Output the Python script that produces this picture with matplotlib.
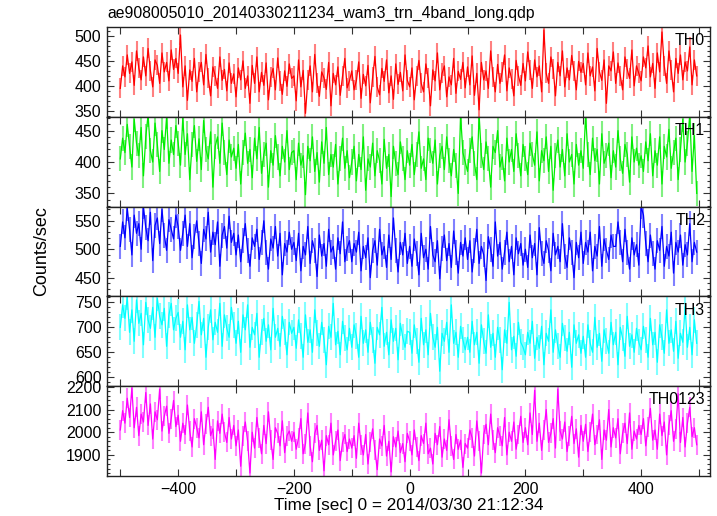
import numpy as np
import matplotlib
matplotlib.use("Agg")
import matplotlib.pyplot as plt
from matplotlib.ticker import MultipleLocator

plt.rcParams["font.family"] = ["Liberation Sans", "DejaVu Sans"]
plt.rcParams["font.size"] = 11.5

title = "ae908005010_20140330211234_wam3_trn_4band_long.qdp"
xlabel = "Time [sec] 0 = 2014/03/30 21:12:34"
ylabel = "Counts/sec"

# time bins (sec), 4 s step
t_start, t_step, n_bins = -500, 4, 250

bands = ["TH0", "TH1", "TH2", "TH3", "TH0123"]

th0 = [
    395, 440, 418, 462, 425, 448, 401, 470, 436, 412, 458, 420, 475, 430, 398, 452, 441, 405, 466, 428, 447, 410, 472, 433, 455,
    425, 502, 398, 440, 371, 432, 409, 455, 388, 428, 447, 402, 463, 415, 380, 438, 420, 395, 458, 411, 433, 390, 446, 405, 424,
    378, 436, 412, 450, 395, 420, 365, 441, 405, 458, 388, 427, 401, 446, 372, 418, 435, 392, 456, 410, 383, 430, 399, 444, 415,
    420, 370, 452, 398, 431, 345, 412, 440, 388, 463, 405, 379, 428, 416, 393, 447, 360, 425, 402, 438, 381, 419, 455, 396, 410,
    430, 392, 411, 448, 375, 423, 400, 441, 366, 417, 459, 398, 382, 435, 409, 452, 386, 420, 373, 444, 403, 427, 390, 462, 411,
    398, 436, 372, 420, 451, 405, 388, 444, 415, 360, 432, 410, 466, 392, 425, 440, 378, 418, 402, 455, 385, 429, 413, 447, 396,
    438, 402, 460, 381, 425, 352, 447, 412, 430, 395, 470, 418, 388, 443, 405, 428, 462, 390, 436, 414, 380, 451, 420, 401, 445,
    410, 468, 431, 395, 452, 418, 440, 388, 512, 425, 405, 458, 434, 380, 447, 420, 470, 398, 436, 412, 461, 430, 392, 449, 427,
    445, 402, 466, 420, 438, 390, 475, 428, 411, 452, 365, 440, 430, 468, 405, 446, 420, 392, 458, 433, 415, 472, 400, 440, 425,
    410, 458, 436, 480, 418, 445, 395, 466, 428, 508, 440, 405, 470, 432, 388, 455, 425, 462, 412, 448, 430, 478, 402, 452, 420,
]
th1 = [
    405, 438, 415, 460, 425, 392, 468, 430, 410, 455, 378, 440, 475, 418, 400, 462, 428, 385, 450, 420, 472, 398, 435, 412, 458,
    430, 395, 470, 412, 445, 372, 428, 458, 401, 437, 388, 466, 420, 405, 448, 360, 425, 440, 398, 462, 415, 380, 435, 408, 422,
    390, 428, 365, 415, 446, 398, 420, 375, 438, 405, 455, 382, 412, 430, 360, 418, 395, 442, 408, 378, 425, 400, 450, 388, 415,
    418, 372, 430, 395, 410, 348, 425, 402, 440, 385, 415, 368, 432, 398, 455, 380, 412, 392, 428, 365, 405, 438, 390, 418, 375,
    400, 425, 370, 412, 388, 440, 355, 405, 392, 430, 378, 418, 402, 365, 436, 390, 412, 345, 425, 398, 380, 432, 405, 372, 418,
    395, 428, 380, 412, 448, 390, 405, 372, 438, 418, 398, 435, 365, 410, 425, 388, 440, 402, 378, 420, 395, 350, 475, 415, 400,
    385, 418, 440, 398, 372, 475, 410, 388, 432, 405, 360, 425, 415, 450, 392, 408, 370, 438, 400, 420, 385, 445, 410, 378, 428,
    405, 380, 430, 412, 395, 448, 370, 418, 402, 440, 385, 425, 355, 410, 435, 392, 420, 378, 445, 400, 412, 365, 428, 395, 418,
    390, 475, 412, 380, 438, 402, 420, 365, 445, 398, 410, 430, 375, 418, 392, 450, 405, 382, 428, 412, 368, 440, 400, 422, 395,
    410, 385, 432, 402, 445, 378, 418, 395, 440, 365, 425, 408, 452, 390, 415, 438, 372, 420, 468, 400, 430, 475, 385, 442, 350,
]
th2 = [
    505, 548, 520, 572, 535, 490, 560, 528, 545, 500, 575, 538, 515, 565, 480, 542, 555, 510, 570, 525, 498, 552, 535, 518, 560,
    540, 498, 528, 560, 505, 545, 485, 522, 550, 510, 475, 535, 518, 565, 495, 530, 508, 548, 470, 525, 540, 502, 558, 512, 528,
    490, 525, 478, 515, 545, 498, 470, 520, 505, 535, 482, 512, 550, 495, 465, 518, 502, 540, 488, 528, 455, 510, 495, 530, 500,
    512, 480, 528, 462, 505, 490, 540, 475, 515, 498, 452, 525, 488, 510, 470, 535, 495, 505, 465, 520, 492, 548, 478, 502, 515,
    478, 510, 495, 530, 462, 505, 485, 520, 450, 498, 515, 472, 535, 490, 505, 468, 525, 482, 555, 498, 460, 512, 490, 528, 475,
    505, 470, 518, 492, 455, 528, 485, 500, 465, 540, 490, 478, 515, 448, 502, 525, 480, 510, 468, 532, 495, 458, 512, 488, 520,
    482, 515, 460, 498, 535, 475, 505, 490, 445, 522, 500, 470, 548, 488, 512, 465, 495, 530, 478, 505, 455, 520, 492, 510, 472,
    500, 468, 525, 485, 510, 455, 538, 492, 475, 515, 498, 462, 528, 490, 505, 478, 545, 488, 468, 520, 495, 450, 512, 485, 530,
    475, 512, 495, 530, 462, 505, 488, 540, 470, 518, 498, 482, 525, 505, 505, 548, 512, 478, 535, 495, 465, 520, 490, 508, 472,
    575, 560, 510, 478, 525, 492, 465, 515, 498, 540, 470, 505, 488, 530, 458, 512, 495, 525, 472, 508, 490, 545, 478, 512, 495,
]
th3 = [
    700, 745, 718, 760, 690, 735, 672, 755, 708, 728, 665, 750, 715, 698, 740, 680, 758, 722, 705, 738, 662, 725, 748, 695, 718,
    730, 680, 712, 655, 745, 695, 720, 668, 705, 752, 685, 718, 640, 700, 735, 675, 710, 690, 748, 662, 725, 698, 680, 740, 705,
    668, 712, 650, 725, 695, 745, 660, 700, 685, 728, 640, 690, 718, 672, 705, 655, 738, 680, 698, 662, 722, 690, 645, 710, 688,
    700, 658, 715, 682, 640, 725, 670, 695, 650, 735, 688, 662, 710, 675, 625, 702, 680, 748, 665, 692, 645, 712, 678, 655, 698,
    660, 705, 682, 640, 722, 668, 695, 650, 710, 675, 628, 700, 685, 740, 662, 690, 645, 715, 672, 698, 635, 708, 680, 660, 692,
    690, 648, 705, 672, 630, 718, 665, 695, 645, 728, 680, 660, 700, 612, 688, 672, 710, 650, 745, 668, 690, 640, 702, 675, 655,
    680, 650, 712, 665, 690, 628, 705, 672, 648, 725, 660, 688, 640, 700, 675, 615, 695, 668, 750, 655, 682, 642, 710, 670, 660,
    645, 690, 668, 712, 638, 680, 658, 702, 625, 688, 672, 735, 650, 695, 662, 640, 708, 678, 652, 690, 620, 705, 668, 685, 648,
    682, 640, 705, 668, 650, 720, 660, 688, 632, 695, 672, 648, 710, 665, 690, 625, 700, 678, 642, 722, 662, 685, 650, 698, 670,
    655, 702, 675, 640, 718, 665, 690, 630, 705, 680, 648, 735, 668, 695, 652, 712, 638, 688, 670, 742, 660, 700, 645, 715, 668,
]
th0123 = [
    2010, 2095, 2040, 2150, 2065, 2195, 2020, 2110, 1985, 2080, 2045, 2175, 2030, 2125, 1970, 2090, 2055, 2190, 2005, 2070, 2115, 1995, 2060, 2140, 2025,
    2075, 1960, 2040, 1990, 2120, 2005, 1935, 2060, 2020, 1975, 2090, 1945, 2035, 2110, 1985, 2015, 1880, 2050, 1995, 2080, 2000, 1955, 2065, 1970, 2030,
    1940, 2010, 1850, 1985, 2045, 1960, 1820, 2000, 1930, 2065, 1975, 1905, 2030, 1950, 2090, 1965, 1880, 2020, 1995, 1940, 2050, 1910, 1985, 2005, 1960,
    2000, 1925, 1975, 2060, 1905, 1950, 2085, 1940, 1870, 1995, 2030, 1920, 1965, 1830, 1985, 1945, 2040, 1900, 1960, 2010, 1875, 1955, 1990, 1915, 1970,
    1930, 1985, 1885, 2040, 1945, 1900, 1990, 1860, 1955, 2015, 1920, 1835, 1970, 1940, 2030, 1895, 1960, 1825, 1980, 1935, 2005, 1910, 1950, 1870, 1995,
    1960, 1900, 2010, 1935, 1875, 1985, 1950, 2040, 1905, 1930, 1860, 1995, 1945, 2025, 1890, 1970, 1920, 2055, 1940, 1880, 1990, 1925, 1965, 1845, 1950,
    1930, 2010, 1975, 1895, 2050, 1960, 1820, 1990, 2035, 1945, 2080, 1965, 1910, 2020, 1985, 1940, 2065, 1900, 2000, 1960, 2045, 1925, 1990, 2070, 1955,
    2020, 1945, 2085, 1990, 2185, 1960, 2040, 1920, 2010, 2100, 1955, 1995, 2060, 1930, 2190, 2005, 1970, 2045, 1915, 1985, 2070, 1950, 2015, 1890, 2030,
    1960, 2035, 1915, 2000, 2080, 1945, 1990, 2055, 1880, 2010, 1965, 2100, 1935, 2020, 1975, 2060, 1905, 1995, 2040, 1950, 2085, 1925, 2005, 1970, 2030,
    1990, 2060, 1940, 2025, 2105, 1965, 2010, 1925, 2080, 1985, 2045, 1900, 2030, 2095, 1960, 2015, 2170, 1955, 2065, 1935, 2040, 2110, 1980, 2020, 1945,
]
series = [th0, th1, th2, th3, th0123]
errors = [20, 20, 22, 26, 44]

colors = ["#ff0000", "#00ee00", "#0000ff", "#00ffff", "#ff00ff"]
err_colors = ["#ff8080", "#80f080", "#8080ff", "#80ffff", "#ff80ff"]
ylims = [(338, 518), (329, 472), (417, 575), (582, 762), (1807, 2203)]
ymajor = [50, 50, 50, 50, 100]
yminor = [10, 10, 10, 10, 20]

t = t_start + t_step * np.arange(n_bins)

fig = plt.figure(figsize=(7.17, 5.16), dpi=100)
left, width = 107 / 717, 603 / 717
top, panel_h = 1 - 27 / 516, 89.8 / 516

axes = []
for i in range(5):
    ax = fig.add_axes([left, top - (i + 1) * panel_h, width, panel_h])
    y = np.array(series[i])
    ax.vlines(t, y - errors[i], y + errors[i], color=err_colors[i], lw=1.5)
    ax.plot(t, y, color=colors[i], lw=0.9)
    ax.set_xlim(-523, 519)
    ax.set_ylim(*ylims[i])
    ax.xaxis.set_major_locator(MultipleLocator(200))
    ax.xaxis.set_minor_locator(MultipleLocator(100))
    ax.yaxis.set_major_locator(MultipleLocator(ymajor[i]))
    ax.yaxis.set_minor_locator(MultipleLocator(yminor[i]))
    ax.tick_params(which="both", direction="in", top=True, right=True, width=0.8, color="#333333")
    ax.tick_params(which="major", length=5, labelsize=11.5, pad=4)
    ax.tick_params(axis="y", which="minor", length=2.5)
    ax.tick_params(axis="x", which="minor", length=5)
    for s in ax.spines.values():
        s.set_linewidth(1.0)
        s.set_color("#222222")
    if i < 4:
        ax.tick_params(labelbottom=False)
    ax.text(0.992, 0.93, bands[i], transform=ax.transAxes, ha="right", va="top", fontsize=11.5)
    axes.append(ax)

axes[-1].set_xlabel(xlabel, fontsize=12.3, labelpad=1)
fig.text(left, 1 - 13 / 516, title, ha="left", va="center", fontsize=11.3)
fig.text(42 / 717, 1 - 251 / 516, ylabel, rotation=90, ha="center", va="center", fontsize=13)

fig.savefig("out.png", dpi=100)
